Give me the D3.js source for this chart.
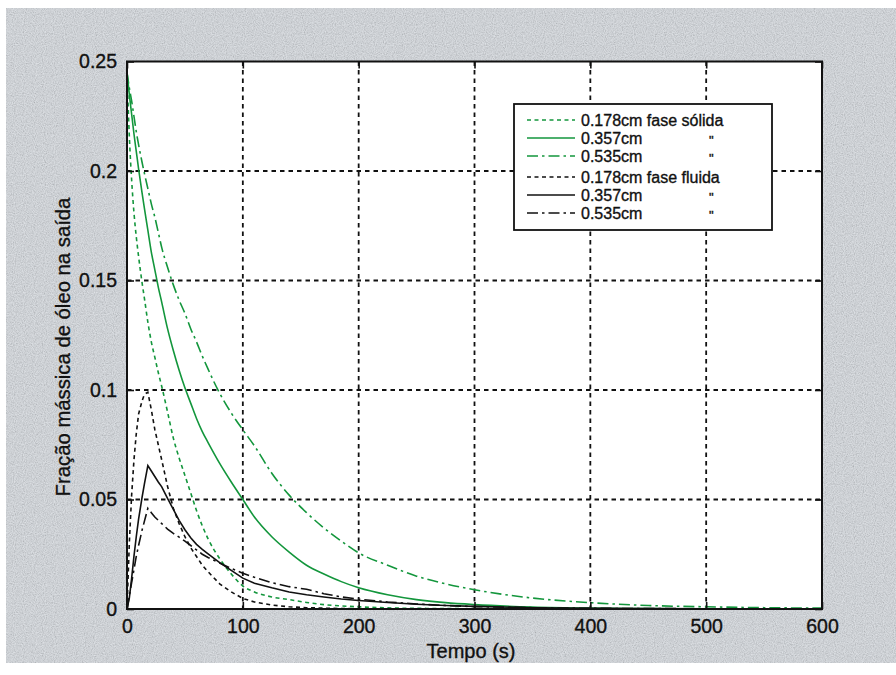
<!DOCTYPE html>
<html>
<head>
<meta charset="utf-8">
<script src="https://cdn.jsdelivr.net/npm/d3@7/dist/d3.min.js"></script>
<style>
  html, body { margin: 0; padding: 0; background: #ffffff; }
  svg { display: block; }
  text { font-family: "Liberation Sans", Arial, Helvetica, sans-serif; fill: #111; stroke: #111; stroke-width: 0.35px; }
</style>
</head>
<body>
<svg id="chart" width="896" height="675"></svg>
<script>
// Sample times (s)
const times = [0, 2, 4, 6, 8, 10, 13, 15, 18, 21, 24, 27, 30, 35, 40, 45, 50, 55, 60, 65, 70, 80, 90, 100,
               110, 125, 140, 155, 170, 185, 200, 225, 250, 275, 300, 350, 400, 450, 500, 550, 600];

// Solid phase, oil mass fraction at the outlet
const solid178 = [0.245, 0.216, 0.196, 0.181, 0.170, 0.161, 0.149, 0.142, 0.131, 0.122, 0.115, 0.108, 0.1016, 0.090, 0.078, 0.069, 0.061, 0.053, 0.045, 0.038, 0.032, 0.023, 0.016, 0.0105,
                  0.0078, 0.0055, 0.0043, 0.0030, 0.0020, 0.0014, 0.0010, 0.0005, 0.0003, 0.0002, 0.0001, 0, 0, 0, 0, 0, 0];
const solid357 = [0.245, 0.235, 0.226, 0.217, 0.209, 0.201, 0.190, 0.183, 0.173, 0.163, 0.155, 0.147, 0.140, 0.128, 0.118, 0.109, 0.101, 0.094, 0.087, 0.081, 0.076, 0.0665, 0.058, 0.050,
                  0.042, 0.033, 0.026, 0.020, 0.016, 0.0125, 0.0097, 0.0065, 0.0043, 0.0029, 0.0020, 0.0009, 0.0004, 0.0002, 0.0001, 0, 0];
const solid535 = [0.245, 0.238, 0.232, 0.225, 0.218, 0.212, 0.204, 0.199, 0.192, 0.185, 0.179, 0.172, 0.165, 0.156, 0.148, 0.141, 0.135, 0.128, 0.122, 0.1155, 0.1095, 0.0985, 0.0895, 0.0818,
                  0.0745, 0.062, 0.052, 0.044, 0.037, 0.031, 0.0256, 0.020, 0.015, 0.0115, 0.0088, 0.0050, 0.0029, 0.0016, 0.0010, 0.0006, 0.0004];

// Fluid phase, oil mass fraction at the outlet
const fluid178 = [0, 0.030, 0.052, 0.068, 0.080, 0.089, 0.095, 0.098, 0.099, 0.091, 0.082, 0.075, 0.068, 0.056, 0.046, 0.039, 0.033, 0.028, 0.024, 0.020, 0.017, 0.0115, 0.0078, 0.0048,
                  0.0032, 0.0018, 0.0010, 0.0006, 0.0004, 0.0002, 0.0001, 0, 0, 0, 0, 0, 0, 0, 0, 0, 0];
const fluid357 = [0, 0.005, 0.014, 0.024, 0.033, 0.041, 0.051, 0.057, 0.0655, 0.063, 0.0605, 0.058, 0.0558, 0.0505, 0.0455, 0.0405, 0.0362, 0.0325, 0.0295, 0.0272, 0.0252, 0.0212, 0.0176, 0.0141,
                  0.0118, 0.0097, 0.0078, 0.0065, 0.0055, 0.0046, 0.0039, 0.0030, 0.0022, 0.0016, 0.0012, 0.0006, 0.0003, 0.0002, 0.0001, 0, 0];
const fluid535 = [0, 0.006, 0.012, 0.018, 0.024, 0.029, 0.036, 0.040, 0.046, 0.044, 0.042, 0.0405, 0.039, 0.0365, 0.0345, 0.0328, 0.031, 0.029, 0.027, 0.025, 0.0235, 0.021, 0.0185, 0.0163,
                  0.0145, 0.0120, 0.0102, 0.0090, 0.0070, 0.0055, 0.0045, 0.0032, 0.0023, 0.0016, 0.0011, 0.0006, 0.0003, 0.0002, 0.0001, 0, 0];

const xTicks = [0, 100, 200, 300, 400, 500, 600];
const yTicks = [0, 0.05, 0.1, 0.15, 0.2, 0.25];
const xTickLabels = ["0", "100", "200", "300", "400", "500", "600"];
const yTickLabels = ["0", "0.05", "0.1", "0.15", "0.2", "0.25"];

const legendLabels = ["0.178cm fase sólida", "0.357cm", "0.535cm", "0.178cm fase fluida", "0.357cm", "0.535cm"];
const legendDitto = ["", "\"", "\"", "", "\"", "\""];

const xTitle = "Tempo (s)";
const yTitle = "Fração mássica de óleo na saída";

// Drawing styles, in legend order
const green = "#13963c";
const ink = "#111111";
const dotted = "4,3.5";
const dashDot = "11,4,2.5,4";
const series = [
  { values: solid178, color: green, dash: dotted, curve: d3.curveMonotoneX },
  { values: solid357, color: green, dash: null,   curve: d3.curveMonotoneX },
  { values: solid535, color: green, dash: dashDot, curve: d3.curveMonotoneX },
  { values: fluid178, color: ink,   dash: dotted, curve: d3.curveLinear },
  { values: fluid357, color: ink,   dash: null,   curve: d3.curveLinear },
  { values: fluid535, color: ink,   dash: dashDot, curve: d3.curveLinear }
];

const svg = d3.select("#chart");
const W = 896, H = 675;
const plot = { left: 127, right: 822, top: 61.5, bottom: 609 };

// Grainy grey backdrop
const defs = svg.append("defs");
const f = defs.append("filter").attr("id", "grain").attr("x", 0).attr("y", 0).attr("width", 1).attr("height", 1);
f.append("feTurbulence").attr("type", "fractalNoise").attr("baseFrequency", 0.9).attr("numOctaves", 2).attr("seed", 3);
f.append("feColorMatrix").attr("type", "matrix")
  .attr("values", "1 0 0 0 0  1 0 0 0 0  1 0 0 0 0  0 0 0 0 1");

svg.append("rect").attr("x", 6).attr("y", 8).attr("width", W - 6).attr("height", 655).attr("fill", "#d6dbe1");
svg.append("rect").attr("x", 6).attr("y", 8).attr("width", W - 6).attr("height", 655)
  .attr("filter", "url(#grain)").attr("opacity", 0.32);

const x = d3.scaleLinear().domain([0, 600]).range([plot.left, plot.right]);
const y = d3.scaleLinear().domain([0, 0.25]).range([plot.bottom, plot.top]);

// Axes area
svg.append("rect").attr("x", plot.left).attr("y", plot.top)
  .attr("width", plot.right - plot.left).attr("height", plot.bottom - plot.top).attr("fill", "#fff");

// Grid
const grid = svg.append("g").attr("stroke", ink).attr("stroke-width", 1.8).attr("stroke-dasharray", "4.5,4");
grid.selectAll("line.v").data(xTicks.slice(1, -1)).join("line")
  .attr("x1", d => x(d)).attr("x2", d => x(d)).attr("y1", plot.top).attr("y2", plot.bottom);
grid.selectAll("line.h").data(yTicks.slice(1, -1)).join("line")
  .attr("x1", plot.left).attr("x2", plot.right).attr("y1", d => y(d)).attr("y2", d => y(d));

// Curves
const clip = defs.append("clipPath").attr("id", "plotclip");
clip.append("rect").attr("x", plot.left).attr("y", plot.top - 2)
  .attr("width", plot.right - plot.left).attr("height", plot.bottom - plot.top + 2);
const curves = svg.append("g").attr("clip-path", "url(#plotclip)");
series.forEach(s => {
  const line = d3.line().x((d, i) => x(times[i])).y(d => y(d)).curve(s.curve);
  curves.append("path").datum(s.values)
    .attr("d", line).attr("fill", "none").attr("stroke", s.color)
    .attr("stroke-width", 1.6).attr("stroke-dasharray", s.dash);
});

// Axes with inward ticks on all four sides
const tickLen = 7;
const axB = d3.axisBottom(x).tickValues(xTicks).tickSizeInner(-tickLen).tickSizeOuter(0).tickFormat((d, i) => xTickLabels[i]).tickPadding(10);
const axT = d3.axisTop(x).tickValues(xTicks).tickSizeInner(-tickLen).tickSizeOuter(0).tickFormat("");
const axL = d3.axisLeft(y).tickValues(yTicks).tickSizeInner(-tickLen).tickSizeOuter(0).tickFormat((d, i) => yTickLabels[i]).tickPadding(10);
const axR = d3.axisRight(y).tickValues(yTicks).tickSizeInner(-tickLen).tickSizeOuter(0).tickFormat("");

function styleAxis(g) {
  g.select(".domain").remove();
  g.selectAll(".tick line").attr("stroke", ink).attr("stroke-width", 1.6);
  g.selectAll(".tick text").attr("fill", ink).style("font-size", "19.5px")
   .style("font-family", "'Liberation Sans', Arial, sans-serif");
}
svg.append("g").attr("transform", `translate(0,${plot.bottom})`).call(axB).call(styleAxis);
svg.append("g").attr("transform", `translate(0,${plot.top})`).call(axT).call(styleAxis);
svg.append("g").attr("transform", `translate(${plot.left},0)`).call(axL).call(styleAxis);
svg.append("g").attr("transform", `translate(${plot.right},0)`).call(axR).call(styleAxis);

// Box
svg.append("rect").attr("x", plot.left).attr("y", plot.top)
  .attr("width", plot.right - plot.left).attr("height", plot.bottom - plot.top)
  .attr("fill", "none").attr("stroke", ink).attr("stroke-width", 2);

// Titles
svg.append("text").attr("x", 471).attr("y", 658).attr("text-anchor", "middle")
  .style("font-size", "20px").text(xTitle);
svg.append("text").attr("transform", "translate(70,347) rotate(-90)").attr("text-anchor", "middle")
  .style("font-size", "20.3px").text(yTitle);

// Legend
const lg = svg.append("g");
lg.append("rect").attr("x", 514).attr("y", 104).attr("width", 258).attr("height", 126)
  .attr("fill", "#fff").attr("stroke", ink).attr("stroke-width", 1.8);
const rowY = [120, 138, 156, 177, 195, 213];
series.forEach((s, i) => {
  lg.append("line").attr("x1", 527).attr("x2", 575).attr("y1", rowY[i]).attr("y2", rowY[i])
    .attr("stroke", s.color).attr("stroke-width", 1.6).attr("stroke-dasharray", s.dash);
  lg.append("text").attr("x", 581).attr("y", rowY[i]).attr("dy", "0.36em")
    .style("font-size", "16px").text(legendLabels[i]);
  if (legendDitto[i]) {
    lg.append("text").attr("x", 709).attr("y", rowY[i]).attr("dy", "0.5em")
      .style("font-size", "13px").text(legendDitto[i]);
  }
});
</script>
</body>
</html>
